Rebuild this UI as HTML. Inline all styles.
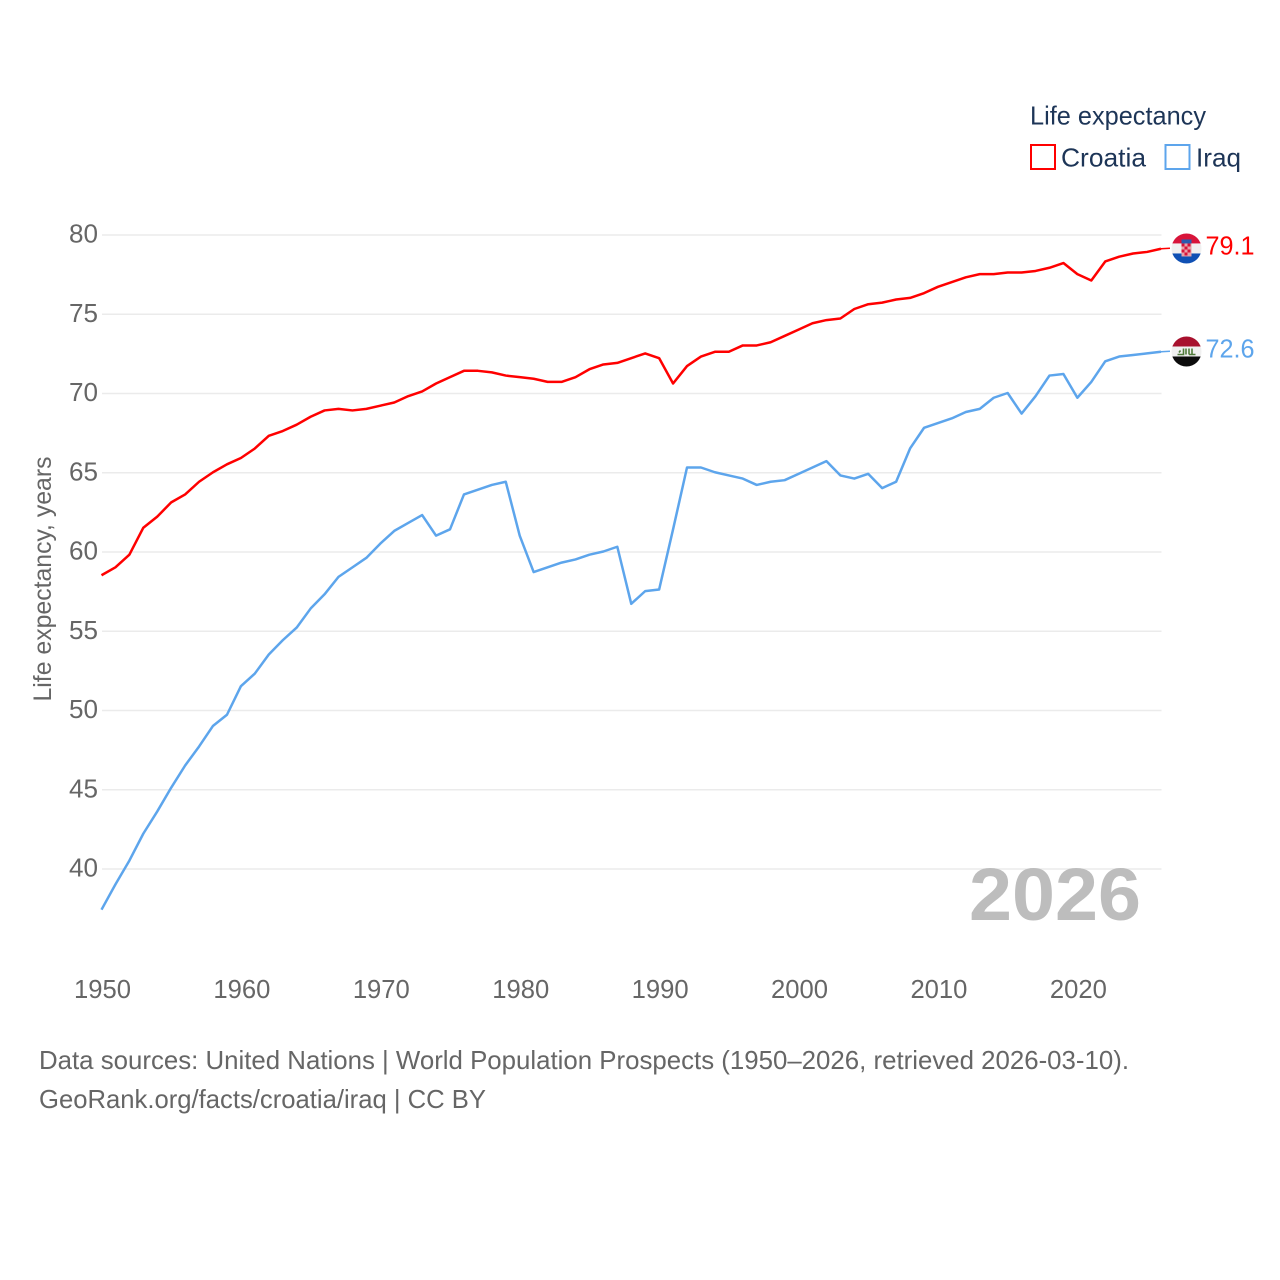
<!DOCTYPE html>
<html lang="en">
<head>
<meta charset="utf-8">
<title>Life expectancy: Croatia and Iraq</title>
<style>
html,body{margin:0;padding:0;background:#fff}
svg{display:block}
text{font-family:"Liberation Sans",sans-serif}
</style>
</head>
<body>
<svg id="chart" width="1280" height="1280" viewBox="0 0 1280 1280" xmlns="http://www.w3.org/2000/svg">
  <defs>
    <clipPath id="flag-clip-a"><circle cx="0" cy="0" r="15"/></clipPath>
  </defs>
  <rect width="1280" height="1280" fill="#ffffff"/>
  <g id="grid"></g>
  <g id="yticks"></g>
  <g id="xticks"></g>
  <text transform="translate(51,579) rotate(-90)" text-anchor="middle" font-size="25" fill="#666666" textLength="245" lengthAdjust="spacingAndGlyphs">Life expectancy, years</text>
  <text x="969" y="920" font-size="74" font-weight="700" fill="#bdbdbd" textLength="172" lengthAdjust="spacingAndGlyphs">2026</text>
  <g id="series" transform="translate(0,-0.5)"></g>
  <g id="flag-croatia">
    <g clip-path="url(#flag-clip-a)">
      <rect x="-15" y="-15" width="30" height="10" fill="#d8143a"/>
      <rect x="-15" y="-5" width="30" height="10" fill="#f0f0f0"/>
      <rect x="-15" y="5" width="30" height="10" fill="#0f50b4"/>
      <rect x="-5" y="-9" width="10" height="4" fill="#2a5bb0"/>
      <rect x="-5" y="-5" width="10" height="13" fill="#e8a0a8"/>
      <path d="M-5-5h3v3h-3zM1-5h3v3h-3zM-2-2h3v3h-3zM-5 1h3v3h-3zM1 1h3v3h-3zM-2 4h3v3h-3z" fill="#d8143a"/>
    </g>
  </g>
  <g id="flag-iraq">
    <g clip-path="url(#flag-clip-a)">
      <rect x="-15" y="-15" width="30" height="10" fill="#a8112e"/>
      <rect x="-15" y="-5" width="30" height="10" fill="#f0f0f0"/>
      <rect x="-15" y="5" width="30" height="10" fill="#0c0c0c"/>
      <path d="M-9 3h6v-6M-6-1l-1.500 2M-0.500 3v-6M2.500 3v-6M5.500 3v-6M2.500 3h6.500" fill="none" stroke="#4f7a3a" stroke-width="1.600"/>
    </g>
  </g>
  <g id="end-labels"></g>

  <g>
    <text x="1030" y="124.500" font-size="26" fill="#1d3557" textLength="176" lengthAdjust="spacingAndGlyphs">Life expectancy</text>
    <g>
      <rect x="1031" y="145" width="24" height="24" fill="none" stroke="#ff0000" stroke-width="2"/>
      <text x="1061" y="166.500" font-size="26" fill="#1d3557" textLength="85" lengthAdjust="spacingAndGlyphs">Croatia</text>
    </g>
    <g>
      <rect x="1165.500" y="145" width="24" height="24" fill="none" stroke="#5da5ec" stroke-width="2"/>
      <text x="1196" y="166.500" font-size="26" fill="#1d3557" textLength="45" lengthAdjust="spacingAndGlyphs">Iraq</text>
    </g>
  </g>

  <text x="39" y="1069" font-size="26" fill="#666666" textLength="1090" lengthAdjust="spacingAndGlyphs">Data sources: United Nations | World Population Prospects (1950–2026, retrieved 2026-03-10).</text>
  <text x="39" y="1108" font-size="26" fill="#666666" textLength="447" lengthAdjust="spacingAndGlyphs">GeoRank.org/facts/croatia/iraq | CC BY</text>
</svg>
<script>
const startYear = 1950;
const yTickValues = [40, 45, 50, 55, 60, 65, 70, 75, 80];
const xTickValues = [1950, 1960, 1970, 1980, 1990, 2000, 2010, 2020];
const croatiaValues = [58.5,59.0,59.8,61.5,62.2,63.1,63.6,64.4,65.0,65.5,65.9,66.5,67.3,67.6,68.0,68.5,68.9,69.0,68.9,69.0,69.2,69.4,69.8,70.1,70.6,71.0,71.4,71.4,71.3,71.1,71.0,70.9,70.7,70.7,71.0,71.5,71.8,71.9,72.2,72.5,72.2,70.6,71.7,72.3,72.6,72.6,73.0,73.0,73.2,73.6,74.0,74.4,74.6,74.7,75.3,75.6,75.7,75.9,76.0,76.3,76.7,77.0,77.3,77.5,77.5,77.6,77.6,77.7,77.9,78.2,77.5,77.1,78.3,78.6,78.8,78.9,79.1];
const iraqValues = [37.4,39.0,40.5,42.2,43.6,45.1,46.5,47.7,49.0,49.7,51.5,52.3,53.5,54.4,55.2,56.4,57.3,58.4,59.0,59.6,60.5,61.3,61.8,62.3,61.0,61.4,63.6,63.9,64.2,64.4,61.0,58.7,59.0,59.3,59.5,59.8,60.0,60.3,56.7,57.5,57.6,61.4,65.3,65.3,65.0,64.8,64.6,64.2,64.4,64.5,64.9,65.3,65.7,64.8,64.6,64.9,64.0,64.4,66.5,67.8,68.1,68.4,68.8,69.0,69.7,70.0,68.7,69.8,71.1,71.2,69.7,70.7,72.0,72.3,72.4,72.5,72.6];

const NS = 'http://www.w3.org/2000/svg';
const xScale = function (year) { return 101.5 + (year - 1950) * (1161 - 101.5) / 76; };
const yScale = function (v) { return 235 + (80 - v) * (869 - 235) / 40; };
const gridG = document.getElementById('grid');
const yG = document.getElementById('yticks');
const xG = document.getElementById('xticks');
const seriesG = document.getElementById('series');
const labelG = document.getElementById('end-labels');

yTickValues.forEach(function (v) {
  const line = document.createElementNS(NS, 'line');
  
  
  line.setAttribute('x1', 102);
  line.setAttribute('x2', 1161.5);
  line.setAttribute('y1', yScale(v));
  line.setAttribute('y2', yScale(v));
  line.setAttribute('stroke', '#ebebeb');
  line.setAttribute('stroke-width', 1.5);
  gridG.appendChild(line);
  const t = document.createElementNS(NS, 'text');
  
  
  t.setAttribute('x', 98);
  t.setAttribute('y', yScale(v) + 7.5);
  t.setAttribute('text-anchor', 'end');
  t.setAttribute('font-size', 26);
  t.setAttribute('fill', '#666666');
  t.setAttribute('textLength', 29);
  t.setAttribute('lengthAdjust', 'spacingAndGlyphs');
  t.textContent = String(v);
  yG.appendChild(t);
});

xTickValues.forEach(function (year) {
  const t = document.createElementNS(NS, 'text');
  
  
  t.setAttribute('x', xScale(year) + 1);
  t.setAttribute('y', 998);
  t.setAttribute('text-anchor', 'middle');
  t.setAttribute('font-size', 26);
  t.setAttribute('fill', '#666666');
  t.setAttribute('textLength', 57);
  t.setAttribute('lengthAdjust', 'spacingAndGlyphs');
  t.textContent = String(year);
  xG.appendChild(t);
});

function drawSeries(values, color, flagId, seriesName) {
  const lastIndex = values.length - 1;
  const lastY = yScale(values[lastIndex]);
  const pts = values.map(function (v, i) {
    return xScale(startYear + i).toFixed(2) + ',' + yScale(v).toFixed(2);
  }).join(' ');
  const line = document.createElementNS(NS, 'polyline');
  
  
  line.setAttribute('points', pts);
  line.setAttribute('fill', 'none');
  line.setAttribute('stroke', color);
  line.setAttribute('stroke-width', 2.5);
  line.setAttribute('stroke-linejoin', 'round');
  seriesG.appendChild(line);
  const leader = document.createElementNS(NS, 'line');
  
  
  leader.setAttribute('x1', xScale(startYear + lastIndex));
  leader.setAttribute('x2', 1170);
  leader.setAttribute('y1', lastY);
  leader.setAttribute('y2', lastY - 0.5);
  leader.setAttribute('stroke', color);
  leader.setAttribute('stroke-width', 1.5);
  seriesG.appendChild(leader);
  document.getElementById(flagId).setAttribute('transform', 'translate(1186.5,' + (lastY - 0.8) + ')');
  const label = document.createElementNS(NS, 'text');
  
  
  label.setAttribute('x', 1205.5);
  label.setAttribute('y', lastY + 5);
  label.setAttribute('font-size', 26);
  label.setAttribute('fill', color);
  label.setAttribute('textLength', 49);
  label.setAttribute('lengthAdjust', 'spacingAndGlyphs');
  label.textContent = values[lastIndex].toFixed(1);
  labelG.appendChild(label);
}

drawSeries(croatiaValues, '#ff0000', 'flag-croatia', 'croatia');
drawSeries(iraqValues, '#5da5ec', 'flag-iraq', 'iraq');
</script>
</body>
</html>
